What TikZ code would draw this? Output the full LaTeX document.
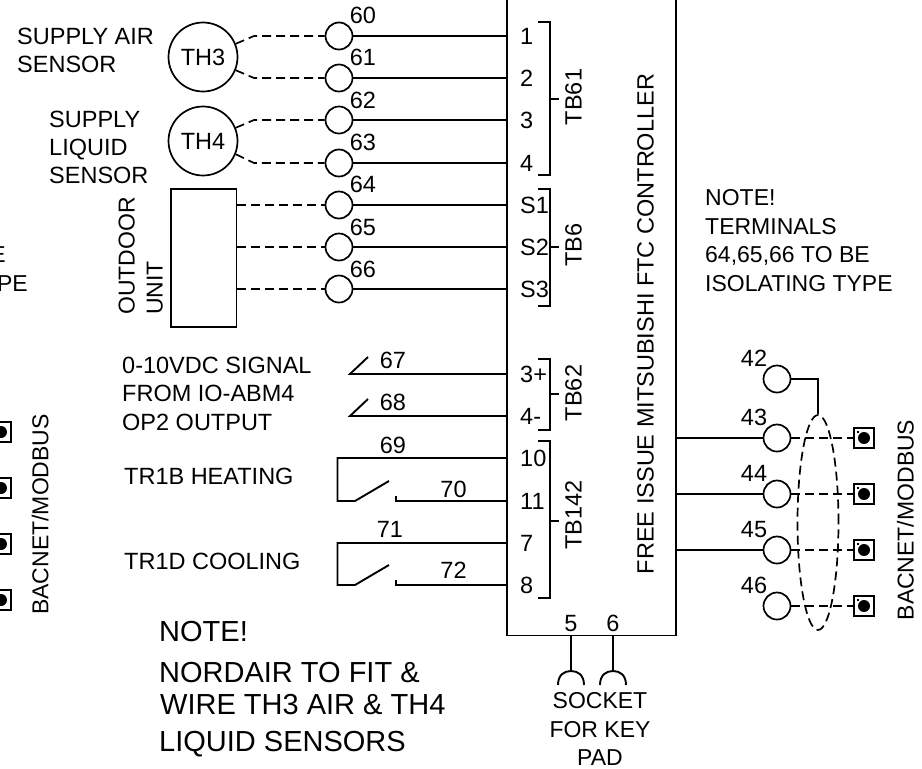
\documentclass[tikz,border=0pt]{standalone}
\usepackage{fontspec}
\setmainfont{Liberation Sans}
\usetikzlibrary{positioning,shapes.geometric}
\tikzset{
  wire/.style={line width=1.9pt},
  dashwire/.style={line width=1.7pt,dash pattern=on 9pt off 5pt},
  termo/.style={circle,draw,line width=1.7pt,fill=white,minimum size=27pt,inner sep=0pt},
  sensor/.style={circle,draw,line width=1.7pt,minimum size=69pt,inner sep=0pt,font=\fontsize{23.5}{26}\selectfont},
  txt/.style={inner sep=0pt,font=\fontsize{23.5}{26}\selectfont,text height=17pt,text depth=0pt},
  smalltxt/.style={txt,font=\fontsize{23}{26}\selectfont},
  notetxt/.style={inner sep=0pt,anchor=west,font=\fontsize{29}{30}\selectfont,text height=20.5pt,text depth=0pt},
  portbox/.style={rectangle,draw,line width=1.6pt,fill=white,minimum size=20pt,inner sep=0pt,
    path picture={
      \fill[black] (path picture bounding box.center) circle(6pt);
      \fill[black] ([shift={(-7.5pt,5.5pt)}]path picture bounding box.center) rectangle +(2.5pt,1.5pt);
    }},
}
\begin{document}
\begin{tikzpicture}[x=1pt,y=-1pt]
  \useasboundingbox (0,0) rectangle (922,769);
  % Controller
  \node[draw,line width=1.9pt,minimum width=169pt,minimum height=675pt,inner sep=0pt] (ftc) at (591.5,298) {};
  \node[txt,rotate=90] (ftcname) at (645,324) {FREE ISSUE MITSUBISHI FTC CONTROLLER};
  % Sensors and outdoor unit
  \node[sensor] (th3) at (203,57) {TH3};
  \node[sensor] (th4) at (203,141) {TH4};
  \node[draw,line width=1.7pt,minimum width=65.5pt,minimum height=138pt,inner sep=0pt] (odu) at (203.75,258) {};
  % Left terminals
  \foreach \n/\y/\ny in {60/36/15, 61/78/57, 62/120/99.5, 63/163/142, 64/205/184, 65/247/227, 66/289/269}
  {
    \node[termo] (t\n) at (339,\y) {};
    \node[txt] (n\n) at (363,\ny) {\n};
    \draw[wire] (t\n) -- (t\n -| ftc.west);
  }
  % Sensor leads
  \foreach \s/\a/\b in {th3/60/61, th4/62/63}
  {
    \draw[dashwire] (\s.22) -- ([xshift=-85pt]t\a.center) -- (t\a);
    \draw[dashwire] (\s.-22) -- ([xshift=-85pt]t\b.center) -- (t\b);
  }
  \foreach \n in {64,65,66}
    \draw[dashwire] (t\n -| odu.east) -- (t\n);
  % Controller terminal labels
  \foreach \name/\lab/\y in {a/1/36, b/2/78, c/3/120, d/4/163, e/S1/205, f/S2/247, g/S3/289,
      h/3+/374, i/4-/416, j/10/458, k/11/501, l/7/543, m/8/585}
    \node[txt,anchor=west] (p\name) at (520,\y) {\lab};
  % Terminal brackets
  \foreach \name/\ytop/\ybot/\ymid/\ly in {TB61/22/175/99/97, TB6/189/306/247/245, TB62/359/430/394/393, TB142/441/598/521/515}
  {
    \coordinate (\name a) at (538,\ytop);
    \coordinate (\name b) at (538,\ybot);
    \coordinate (\name c) at (550,\ymid);
    \draw[line width=1.6pt] (\name a) -- ++(12,0) -- ++(0,\ybot-\ytop) -- (\name b);
    \draw[line width=1.6pt] (\name c) -- ++(9,0);
    \node[txt,rotate=90] (\name) at (573,\ly) {\name};
  }
  % Signal input
  \foreach \n/\y/\ny in {67/374/360, 68/416/402}
  {
    \coordinate (s\n) at (350,\y);
    \draw[wire] (s\n -| ftc.west) -- (s\n) -- ++(18,-17);
    \node[txt] (n\n) at (393,\ny) {\n};
  }
  % Relay contacts
  \foreach \n/\m/\ya/\yb/\nxa/\nya/\nyb in {69/70/458/501/393/445/489, 71/72/543/585/390/529/570}
  {
    \coordinate (r\n) at (337.5,\ya);
    \coordinate (r\m) at (396,\yb);
    \draw[wire] (r\n -| ftc.west) -- (r\n) -- (337.5,\yb) -- (355,\yb) -- ++(34,-20);
    \draw[wire] (396,\yb-5) -- (r\m) -- (r\m -| ftc.west);
    \node[txt] (n\n) at (\nxa,\nya) {\n};
    \node[txt] (n\m) at (453.5,\nyb) {\m};
  }
  % Right terminals
  \coordinate (busx) at (864,0);
  \foreach \n/\y in {42/379, 43/438, 44/494, 45/550, 46/606}
  {
    \node[termo] (t\n) at (777,\y) {};
    \node[txt] (n\n) at (754,\y-21) {\n};
  }
  \foreach \n in {43,44,45}
    \draw[wire] (t\n) -- (t\n -| ftc.east);
  \foreach \n/\b in {43/1, 44/2, 45/3, 46/4}
  {
    \draw[dashwire] (t\n) -- (t\n -| busx);
    \node[portbox] (bus\b) at (t\n -| busx) {};
  }
  % Cable screen
  \node[ellipse,draw,line width=1.7pt,dash pattern=on 9pt off 5pt,minimum width=41pt,minimum height=215pt,inner sep=0pt] (screen) at (818,522.5) {};
  \draw[wire] (t42) -| (screen.north);
  \node[smalltxt,rotate=90] (busname) at (905,520) {BACNET/MODBUS};
  % Left edge
  \foreach \b/\y in {5/432, 6/488, 7/544, 8/600}
    \node[portbox] (bus\b) at (1,\y) {};
  \node[smalltxt,rotate=90] (busleft) at (40,514.5) {BACNET/MODBUS};
  \node[smalltxt,anchor=east] (edgea) at (6,254) {E};
  \node[smalltxt,anchor=east] (edgeb) at (28,283) {PE};
  % Key pad sockets
  \foreach \n/\x in {5/571, 6/613}
  {
    \node[txt] (k\n) at (\x,623) {\n};
    \coordinate (sk\n) at (\x,671);
    \draw[wire] (sk\n |- ftc.south) -- (sk\n);
    \draw[wire] (\x-13,685) .. controls (\x-13,675) and (\x-7,671) .. (sk\n) .. controls (\x+7,671) and (\x+13,675) .. (\x+13,685);
  }
  \node[smalltxt] (socka) at (600,700) {SOCKET};
  \node[smalltxt] (sockb) at (600,729) {FOR KEY};
  \node[smalltxt] (sockc) at (600,757) {PAD};
  % Texts
  \node[txt,anchor=west] (la) at (17,36) {SUPPLY AIR};
  \node[txt,anchor=west] (lb) at (17,64) {SENSOR};
  \node[txt,anchor=west] (lc) at (49,119) {SUPPLY};
  \node[txt,anchor=west] (ld) at (49,147) {LIQUID};
  \node[txt,anchor=west] (le) at (49,175) {SENSOR};
  \node[smalltxt,rotate=90,anchor=west] (lf) at (126,315) {OUTDOOR};
  \node[smalltxt,rotate=90,anchor=west] (lg) at (154,315) {UNIT};
  \node[txt,anchor=west] (lh) at (122,365) {0-10VDC SIGNAL};
  \node[txt,anchor=west] (li) at (122,393) {FROM IO-ABM4};
  \node[txt,anchor=west] (lj) at (122,421.5) {OP2 OUTPUT};
  \node[txt,anchor=west] (lk) at (124,476) {TR1B HEATING};
  \node[txt,anchor=west] (ll) at (124,561) {TR1D COOLING};
  \node[smalltxt,anchor=west] (ma) at (705,197) {NOTE!};
  \node[smalltxt,anchor=west] (mb) at (705,226) {TERMINALS};
  \node[smalltxt,anchor=west] (mc) at (705,254) {64,65,66 TO BE};
  \node[smalltxt,anchor=west] (md) at (705,283) {ISOLATING TYPE};
  \node[notetxt] (na) at (159,631) {NOTE!};
  \node[notetxt] (nb) at (159,672) {NORDAIR TO FIT \&};
  \node[notetxt] (nc) at (160,704) {WIRE TH3 AIR \& TH4};
  \node[notetxt] (nd) at (159,741) {LIQUID SENSORS};
\end{tikzpicture}
\end{document}
